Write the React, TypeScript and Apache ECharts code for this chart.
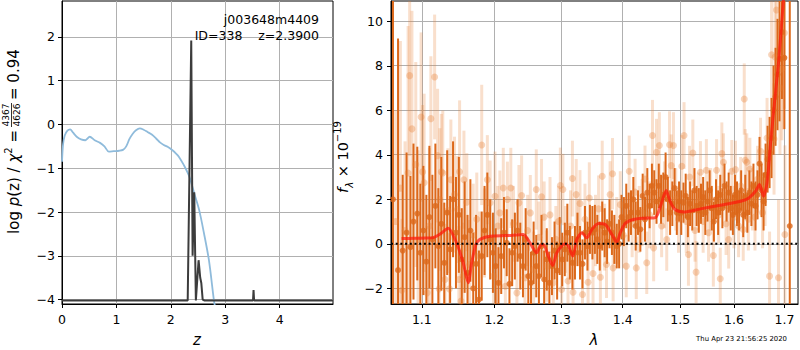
import React, { useEffect, useRef } from 'react';
import * as echarts from 'echarts';

const FONT = 'DejaVu Sans';

// ---------- Left panel: redshift fit ----------
const zTicks = [0, 1, 2, 3, 4];
const logPTicks = [-4, -3, -2, -1, 0, 1, 2];
// chi2 curve (blue)
const chi2Curve: [number, number][] = [
  [0, -0.85], [0.02, -0.45], [0.05, -0.25], [0.1, -0.14], [0.15, -0.11], [0.2, -0.18],
  [0.27, -0.28], [0.35, -0.34], [0.43, -0.36], [0.51, -0.28], [0.6, -0.36], [0.7, -0.42],
  [0.78, -0.5], [0.86, -0.62], [0.95, -0.61], [1.05, -0.6], [1.12, -0.58], [1.18, -0.5],
  [1.24, -0.33], [1.3, -0.21], [1.36, -0.13], [1.43, -0.09], [1.5, -0.12], [1.57, -0.17],
  [1.65, -0.23], [1.73, -0.32], [1.8, -0.41], [1.87, -0.47], [1.94, -0.51], [2.03, -0.59],
  [2.1, -0.67], [2.15, -0.74], [2.24, -0.93], [2.34, -1.19], [2.43, -1.57], [2.52, -1.95],
  [2.61, -2.49], [2.7, -3.1], [2.79, -4.0], [2.81, -4.15],
];
// log p(z) (black)
const pzCurve: [number, number][] = [
  [0, -4.02], [2.31, -4.02], [2.375, 1.92], [2.40, -3.0], [2.43, -1.55], [2.46, -4.02],
  [2.51, -3.1], [2.54, -3.5], [2.56, -3.62], [2.585, -4.0], [2.62, -4.02], [3.51, -4.02],
  [3.52, -3.78], [3.53, -4.02], [4.98, -4.02],
];

// ---------- Right panel: spectrum ----------
const lamTicks = [1.1, 1.2, 1.3, 1.4, 1.5, 1.6, 1.7];
const fluxTicks = [-2, 0, 2, 4, 6, 8, 10];
const lamRange = [1.06, 1.728];
const fluxRange = [-2.7, 10.9];
// [lambda (um), flux, error]
const specDark: [number, number, number][] = [
  [1.0625, 2.0, 15], [1.069, -1.18, 10.4], [1.075, -0.3, 3.4], [1.080, 0.5, 3.6], [1.085, -0.15, 3.2],
  [1.089, 1.0, 3.5], [1.094, 1.36, 3.0], [1.098, -0.4, 3.1], [1.102, 0.6, 2.9], [1.106, -0.8, 3.0],
  [1.110, 1.2, 3.2], [1.114, 0.2, 2.9], [1.118, 1.7, 2.8], [1.122, -0.1, 2.6], [1.126, 0.9, 3.0],
  [1.130, -0.85, 2.7], [1.134, 1.4, 2.8], [1.138, -0.25, 2.4], [1.142, 2.0, 2.6], [1.146, 0.5, 2.5],
  [1.150, 1.3, 2.6], [1.154, -0.7, 2.3], [1.158, 0.3, 2.5], [1.162, -1.3, 2.6], [1.166, 0.6, 2.3],
  [1.170, -2.0, 2.5], [1.174, -0.9, 2.2], [1.178, -2.5, 2.2], [1.182, -0.55, 2.0], [1.186, 0.6, 2.0],
  [1.190, 1.3, 1.9], [1.194, 0.2, 1.8], [1.198, -0.4, 1.8], [1.202, -1.0, 1.7], [1.206, -1.75, 1.6],
  [1.210, -0.55, 1.7], [1.214, 0.5, 1.6], [1.218, 0.05, 1.5], [1.222, -1.8, 1.6], [1.226, -0.4, 1.5],
  [1.230, -0.1, 1.5], [1.234, 0.6, 1.4], [1.238, -0.55, 1.5], [1.242, -1.0, 1.4], [1.246, 0.2, 1.4],
  [1.250, -1.45, 1.5], [1.254, -1.75, 1.4], [1.258, -0.4, 1.4], [1.262, -1.0, 1.4], [1.266, -1.45, 1.3],
  [1.270, -0.1, 1.4], [1.274, -1.6, 1.3], [1.278, -0.7, 1.4], [1.282, -1.75, 1.4], [1.286, -1.0, 1.3],
  [1.290, -0.3, 1.3], [1.294, -1.2, 1.3], [1.298, -0.1, 1.3], [1.302, -0.7, 1.2], [1.306, -0.25, 1.2],
  [1.310, 0.5, 1.3], [1.314, -0.4, 1.2], [1.318, -0.85, 1.2], [1.322, -0.4, 1.2], [1.326, 0.2, 1.2],
  [1.330, -0.4, 1.2], [1.334, -0.9, 1.1], [1.338, 0.5, 1.2], [1.342, -0.1, 1.1], [1.346, 0.65, 1.1],
  [1.350, 0.5, 1.2], [1.354, 0.65, 1.1], [1.358, 0.2, 1.1], [1.362, -0.1, 1.1], [1.366, 0.8, 1.1],
  [1.370, 0.5, 1.1], [1.374, 0.1, 1.0], [1.378, 0.9, 1.1], [1.382, 0.5, 1.0], [1.386, 0.2, 1.1],
  [1.390, -0.1, 1.0], [1.394, 0.0, 1.1], [1.398, 1.2, 1.0], [1.402, 1.0, 1.1], [1.406, 1.7, 1.0],
  [1.410, 1.2, 1.1], [1.414, 1.4, 1.0], [1.418, 2.0, 1.0], [1.422, 0.8, 1.1], [1.426, 1.4, 1.0],
  [1.430, 0.65, 1.0], [1.434, 2.15, 1.0], [1.438, 1.1, 1.0], [1.442, 2.3, 1.1], [1.446, 1.7, 1.0],
  [1.450, 2.6, 1.0], [1.454, 2.3, 1.0], [1.458, 1.9, 1.0], [1.462, 2.6, 1.0], [1.466, 2.0, 1.1],
  [1.470, 2.2, 1.0], [1.474, 3.0, 1.1], [1.478, 2.0, 1.0], [1.482, 1.4, 1.0], [1.486, 1.8, 1.0],
  [1.490, 2.5, 0.9], [1.494, 1.4, 1.0], [1.498, 1.9, 0.9], [1.502, 1.4, 1.0], [1.506, 1.85, 0.9],
  [1.510, 2.15, 1.0], [1.514, 1.2, 0.9], [1.518, 1.8, 1.0], [1.522, 1.5, 0.9], [1.526, 2.4, 1.0],
  [1.530, 1.7, 0.9], [1.534, 1.5, 1.0], [1.538, 1.8, 0.9], [1.542, 2.1, 0.9], [1.546, 1.4, 1.0],
  [1.550, 1.9, 0.9], [1.554, 2.4, 0.9], [1.558, 1.6, 1.0], [1.562, 1.0, 0.9], [1.566, 2.0, 0.9],
  [1.570, 1.4, 1.0], [1.574, 2.2, 0.9], [1.578, 1.6, 0.9], [1.582, 2.6, 1.0], [1.586, 1.9, 0.9],
  [1.590, 2.3, 0.9], [1.594, 1.6, 1.0], [1.598, 1.3, 0.9], [1.602, 2.2, 0.9], [1.606, 1.8, 1.0],
  [1.610, 1.5, 0.9], [1.614, 2.4, 0.9], [1.618, 1.3, 1.0], [1.622, 2.1, 1.0], [1.626, 1.4, 0.9],
  [1.630, 2.3, 1.0], [1.634, 1.8, 1.0], [1.638, 2.6, 1.0], [1.642, 1.7, 1.1], [1.646, 2.2, 1.1],
  [1.650, 3.6, 1.2], [1.654, 2.4, 1.2], [1.658, 1.9, 1.3], [1.662, 3.1, 1.4], [1.666, 3.8, 1.5],
  [1.670, 4.1, 1.6], [1.674, 4.75, 1.8], [1.678, 6.0, 2.0], [1.682, 6.6, 2.2], [1.686, 7.6, 2.5],
  [1.690, 8.3, 2.8], [1.695, 9.5, 3.0], [1.700, 8.35, 3.2], [1.711, 0.8, 14],
];
const specLight: [number, number, number][] = [
  [1.066, 1.0, 5.0], [1.072, 2.5, 6.6], [1.074, -2.08, 3.2], [1.078, 0.6, 4.0], [1.082, 3.18, 6.6],
  [1.084, 7.55, 3.6], [1.087, 5.16, 5.3], [1.092, 3.56, 4.6], [1.095, 0.2, 4.0], [1.099, 5.69, 3.8],
  [1.101, 3.23, 3.0], [1.103, 2.74, 4.0], [1.107, -2.2, 3.0], [1.110, 0.8, 3.5], [1.112, 5.62, 2.8],
  [1.117, 7.49, 2.8], [1.121, 3.96, 3.0], [1.123, -2.02, 2.8], [1.124, 1.99, 3.2], [1.126, 3.23, 2.6],
  [1.128, 3.18, 2.8], [1.131, -1.6, 2.5], [1.135, 1.49, 2.8], [1.137, -2.02, 2.5], [1.139, 2.88, 2.7],
  [1.144, 2.21, 2.6], [1.148, 1.54, 2.4], [1.150, -1.6, 2.4], [1.151, 3.24, 3.2], [1.153, -2.57, 2.3],
  [1.156, -1.45, 2.4], [1.157, 2.88, 2.2], [1.161, 1.87, 2.2], [1.165, -0.93, 2.0], [1.170, 0.4, 2.3],
  [1.175, 1.1, 2.1], [1.179, -0.55, 2.0], [1.182, 4.44, 2.7], [1.186, 0.49, 2.0], [1.190, 2.88, 2.0],
  [1.194, 1.84, 1.9], [1.199, -1.45, 1.8], [1.201, 2.14, 2.0], [1.205, 0.8, 1.8], [1.208, 1.39, 1.9],
  [1.213, 2.51, 1.8], [1.216, -1.9, 1.9], [1.219, 1.99, 1.7], [1.224, 2.51, 1.8], [1.228, 0.9, 1.7],
  [1.233, -2.2, 1.8], [1.236, 1.84, 1.7], [1.240, 2.17, 1.8], [1.245, -1.52, 1.7], [1.249, 0.6, 1.6],
  [1.253, 1.39, 1.7], [1.258, -1.15, 1.7], [1.262, 2.44, 1.8], [1.266, 0.3, 1.6], [1.270, 2.11, 1.7],
  [1.274, 1.2, 1.6], [1.278, -1.0, 1.6], [1.283, 1.3, 1.7], [1.288, -1.75, 1.6], [1.292, 0.2, 1.5],
  [1.296, 1.0, 1.6], [1.299, 2.62, 1.7], [1.301, -2.05, 1.6], [1.303, 2.44, 1.6], [1.307, 0.2, 1.5],
  [1.311, -1.67, 1.5], [1.315, 0.8, 1.6], [1.318, 2.93, 1.7], [1.319, -2.17, 1.5], [1.324, 2.21, 1.6],
  [1.327, 0.5, 1.5], [1.330, 1.81, 1.5], [1.334, -2.27, 1.5], [1.338, 1.1, 1.6], [1.343, -1.72, 1.5],
  [1.345, 2.06, 1.6], [1.351, -1.33, 1.5], [1.355, 0.6, 1.6], [1.360, 1.57, 1.5], [1.363, -1.5, 1.5],
  [1.366, 3.03, 1.6], [1.370, 0.3, 1.5], [1.373, -0.93, 1.5], [1.379, 2.21, 1.5], [1.383, 3.15, 1.6],
  [1.384, -1.08, 1.5], [1.390, 0.6, 1.5], [1.396, 1.76, 1.5], [1.401, 0.4, 1.5], [1.406, -1.0, 1.4],
  [1.411, 3.26, 1.6], [1.416, 0.9, 1.5], [1.421, 2.32, 1.5], [1.423, -1.08, 1.4], [1.428, 1.1, 1.5],
  [1.433, 1.4, 1.5], [1.438, 2.91, 1.5], [1.441, -0.85, 1.4], [1.446, 1.3, 1.5], [1.451, 4.86, 1.6],
  [1.453, -0.18, 1.5], [1.458, 4.11, 1.5], [1.463, 4.41, 1.5], [1.467, 0.8, 1.4], [1.472, 2.2, 1.5],
  [1.476, 0.19, 1.4], [1.481, 4.45, 1.5], [1.484, 3.51, 1.4], [1.488, 4.41, 1.5], [1.492, 2.0, 1.4],
  [1.497, 1.1, 1.5], [1.503, 3.48, 1.4], [1.507, 4.86, 1.5], [1.511, 1.0, 1.4], [1.515, -0.48, 1.4],
  [1.517, 3.0, 1.4], [1.523, 4.08, 1.5], [1.527, 0.6, 1.4], [1.529, -1.27, 1.4], [1.533, 1.9, 1.3],
  [1.537, 3.21, 1.4], [1.542, 1.0, 1.4], [1.548, 3.3, 1.4], [1.552, 0.5, 1.3], [1.556, 2.0, 1.4],
  [1.561, -0.52, 1.4], [1.567, 3.3, 1.4], [1.571, 1.3, 1.3], [1.574, -1.57, 1.4], [1.577, 4.05, 1.4],
  [1.580, 3.66, 1.3], [1.585, 0.9, 1.4], [1.590, 0.19, 1.3], [1.596, 3.26, 1.4], [1.600, 1.2, 1.4],
  [1.603, 3.33, 1.3], [1.609, 0.8, 1.4], [1.613, 2.6, 1.3], [1.618, 0.64, 1.4], [1.620, 6.5, 1.6],
  [1.622, 3.75, 1.4], [1.625, 3.66, 1.3], [1.628, 1.1, 1.4], [1.631, 3.36, 1.4], [1.636, 2.0, 1.4],
  [1.641, 1.2, 1.5], [1.646, 2.9, 1.5], [1.652, 4.16, 1.5], [1.656, 1.4, 1.6], [1.661, 2.5, 1.7],
  [1.665, 4.75, 1.8], [1.670, -1.45, 2.0], [1.674, 8.49, 2.4], [1.679, 4.71, 2.5], [1.681, 8.39, 2.6],
  [1.684, 10.5, 3.0], [1.688, -1.52, 3.5], [1.691, 7.0, 3.0], [1.695, 7.85, 3.2], [1.698, 8.34, 3.2],
  [1.700, 9.46, 3.4], [1.701, 0.42, 4.0],
];
// best-fit model (red)
const modelCurve: [number, number][] = [
  [1.0735, 0.24], [1.09, 0.25], [1.105, 0.26], [1.115, 0.28], [1.125, 0.45], [1.1353, 0.70],
  [1.1468, 0.04], [1.156, -0.85], [1.163, -1.75], [1.1678, -0.85], [1.1738, -0.03], [1.1794, 0.2],
  [1.1937, 0.34], [1.218, 0.37], [1.2425, 0.42], [1.2526, 0.04], [1.2626, -0.40], [1.2677, -0.1],
  [1.2728, -0.03], [1.2805, -0.55], [1.2872, -0.97], [1.2935, -0.4], [1.3064, 0.0], [1.3117, -0.1],
  [1.3186, -0.55], [1.325, 0.2], [1.333, 0.5], [1.341, 0.27], [1.349, 0.64], [1.36, 0.91],
  [1.371, 0.87], [1.382, 0.42], [1.39, 0.07], [1.396, 0.5], [1.404, 0.91], [1.418, 1.09],
  [1.436, 1.15], [1.456, 1.18], [1.465, 1.69], [1.475, 2.39], [1.482, 1.91], [1.491, 1.54],
  [1.506, 1.43], [1.537, 1.57], [1.574, 1.73], [1.613, 1.91], [1.629, 2.06], [1.642, 2.36],
  [1.65, 2.66], [1.658, 2.14], [1.665, 2.74], [1.672, 4.53], [1.6785, 6.02], [1.6886, 8.27],
  [1.6954, 10.2], [1.700, 11.5], [1.705, 13],
];

const DARK = 'rgb(220,104,26)';
const LIGHT_BAR = 'rgba(232,128,52,0.25)';
const LIGHT_DOT = 'rgba(232,128,52,0.42)';

const GRID_L = { left: 62, top: 1, width: 271, height: 303 };
const GRID_R = { left: 391, top: 1, width: 407, height: 303 };

const minus = (v: number) => (v < 0 ? '\u2212' + Math.abs(v) : String(v));

// error bars, clamped to the panel's flux range (no clip path needed)
function errBars(data: [number, number, number][], color: string, width: number) {
  return {
    type: 'custom',
    xAxisIndex: 1,
    yAxisIndex: 1,
    clip: false,
    silent: true,
    dimensions: ['x', 'y', 'e'],
    encode: { x: 0, y: 1 },
    data: data.map((d) => [Math.log(d[0]), d[1], d[2]]),
    renderItem: (_p: any, api: any) => {
      const x = api.value(0);
      const y = api.value(1);
      const e = api.value(2);
      const lo = Math.max(fluxRange[0], y - e);
      const hi = Math.min(fluxRange[1], y + e);
      if (hi <= lo) return null;
      const a = api.coord([x, lo]);
      const b = api.coord([x, hi]);
      return {
        type: 'line',
        shape: { x1: a[0], y1: a[1], x2: b[0], y2: b[1] },
        style: { stroke: color, lineWidth: width },
      };
    },
  };
}

function dots(data: [number, number, number][], color: string, size: number) {
  return {
    type: 'scatter',
    xAxisIndex: 1,
    yAxisIndex: 1,
    silent: true,
    symbol: 'circle',
    symbolSize: size,
    itemStyle: { color },
    data: data
      .filter((d) => d[1] >= fluxRange[0] && d[1] <= fluxRange[1])
      .map((d) => [Math.log(d[0]), d[1]]),
  };
}

const tickLabel = { show: true, color: '#000', fontSize: 12.5, fontFamily: FONT };
const splitLine = { show: true, lineStyle: { color: '#b0b0b0', width: 1 } };
const axisLine = { show: true, onZero: false, lineStyle: { color: '#000', width: 1 } };

// y tick marks + labels of the spectrum panel, placed from the panel's flux range
const fluxY = (v: number) => GRID_R.top + (GRID_R.height * (fluxRange[1] - v)) / (fluxRange[1] - fluxRange[0]);
const fluxTickGraphics: any[] = [];
fluxTicks.forEach((v) => {
  const y = fluxY(v);
  fluxTickGraphics.push({
    type: 'line', z: 100, silent: true,
    shape: { x1: GRID_R.left - 4, y1: Math.round(y) + 0.5, x2: GRID_R.left, y2: Math.round(y) + 0.5 },
    style: { stroke: '#000', lineWidth: 1 },
  });
  fluxTickGraphics.push({
    type: 'text', z: 100, silent: true, x: GRID_R.left - 8, y,
    style: { text: minus(v), align: 'right', verticalAlign: 'middle', fontSize: 12.5, fontFamily: FONT, fill: '#000' },
  });
});

const staticGraphics: any[] = [
  { type: 'text', z: 100, x: 319, y: 19, style: { text: 'j003648m4409', align: 'right', verticalAlign: 'middle', fontSize: 12.5, fontFamily: FONT, fill: '#000' } },
  { type: 'text', z: 100, x: 319, y: 35, style: { text: 'ID=338    z=2.3900', align: 'right', verticalAlign: 'middle', fontSize: 12.5, fontFamily: FONT, fill: '#000' } },
  { type: 'text', z: 100, x: 197, y: 340, style: { text: 'z', align: 'center', verticalAlign: 'middle', fontSize: 15, fontStyle: 'italic', fontFamily: FONT, fill: '#000' } },
  { type: 'text', z: 100, x: 594, y: 340, style: { text: 'λ', align: 'center', verticalAlign: 'middle', fontSize: 15, fontStyle: 'italic', fontFamily: FONT, fill: '#000' } },
  { type: 'text', z: 100, x: 787, y: 339, style: { text: 'Thu Apr 23 21:56:25 2020', align: 'right', verticalAlign: 'middle', fontSize: 6.9, fontFamily: FONT, fill: '#000' } },
  ...fluxTickGraphics,
  {
    type: 'group', x: 14, y: 156, rotation: Math.PI / 2, z: 100,
    children: [
      {
        type: 'text', x: 26, y: 0,
        style: {
          text: '{r|log }{i|p}{r|(z) / }{i|χ}{s|2}{r| =}',
          align: 'right', verticalAlign: 'middle', fill: '#000',
          rich: {
            r: { fontSize: 15, fontFamily: FONT, lineHeight: 22, verticalAlign: 'middle' },
            i: { fontSize: 15, fontFamily: FONT, fontStyle: 'italic', lineHeight: 22, verticalAlign: 'middle' },
            s: { fontSize: 10, fontFamily: FONT, verticalAlign: 'top', lineHeight: 14 },
          },
        },
      },
      { type: 'text', x: 41, y: -3.5, style: { text: '4367', align: 'center', verticalAlign: 'bottom', fontSize: 9, fontFamily: FONT, fill: '#000' } },
      { type: 'line', shape: { x1: 29, y1: -2.5, x2: 53, y2: -2.5 }, style: { stroke: '#000', lineWidth: 0.8 } },
      { type: 'text', x: 41, y: -1.5, style: { text: '4626', align: 'center', verticalAlign: 'top', fontSize: 9, fontFamily: FONT, fill: '#000' } },
      { type: 'text', x: 56, y: 0, style: { text: '= 0.94', align: 'left', verticalAlign: 'middle', fontSize: 15, fontFamily: FONT, fill: '#000' } },
    ],
  },
  {
    type: 'text', x: 343, y: 157, rotation: Math.PI / 2, z: 100,
    style: {
      text: '{f|f}{s|λ}{r| × 10}{p|−19}',
      align: 'center', verticalAlign: 'middle', fill: '#000',
      rich: {
        f: { fontSize: 14.5, fontFamily: FONT, fontStyle: 'italic', lineHeight: 22, verticalAlign: 'middle' },
        r: { fontSize: 14.5, fontFamily: FONT, lineHeight: 22, verticalAlign: 'middle' },
        s: { fontSize: 10, fontFamily: FONT, fontStyle: 'italic', verticalAlign: 'bottom', lineHeight: 14 },
        p: { fontSize: 10, fontFamily: FONT, verticalAlign: 'top', lineHeight: 14 },
      },
    },
  },
];

export default function App() {
  const ref = useRef<HTMLDivElement>(null);
  useEffect(() => {
    if (!ref.current) return;
    const chart = echarts.init(ref.current, null, { renderer: 'svg' });
    const option: any = {
      animation: false,
      textStyle: { fontFamily: FONT },
      grid: [
        { ...GRID_L, show: true, borderColor: '#000', borderWidth: 1, backgroundColor: 'transparent' },
        { ...GRID_R, show: true, borderColor: '#000', borderWidth: 1, backgroundColor: 'transparent' },
      ],
      xAxis: [
        {
          type: 'value', gridIndex: 0, position: 'bottom', min: 0, max: 4.98,
          axisLine, splitLine,
          axisTick: { show: true, length: 4, lineStyle: { color: '#000' }, customValues: zTicks },
          axisLabel: { ...tickLabel, margin: 9, customValues: zTicks, formatter: minus },
        },
        {
          type: 'value', gridIndex: 1, position: 'bottom', min: Math.log(lamRange[0]), max: Math.log(lamRange[1]),
          axisLine, splitLine,
          axisTick: { show: true, length: 4, lineStyle: { color: '#000' }, customValues: lamTicks.map(Math.log) },
          axisLabel: { ...tickLabel, margin: 9, customValues: lamTicks.map(Math.log), formatter: (v: number) => Math.exp(v).toFixed(1) },
        },
      ],
      yAxis: [
        {
          type: 'value', gridIndex: 0, position: 'left', min: -4.1, max: 2.82,
          axisLine, splitLine,
          axisTick: { show: true, length: 4, lineStyle: { color: '#000' }, customValues: logPTicks },
          axisLabel: { ...tickLabel, margin: 7, customValues: logPTicks, formatter: minus },
        },
        {
          type: 'value', gridIndex: 1, position: 'left', min: fluxRange[0], max: fluxRange[1],
          axisLine, splitLine,
          axisTick: { show: false, customValues: fluxTicks },
          axisLabel: { show: false, customValues: fluxTicks },
        },
      ],
      series: [
        {
          type: 'line', xAxisIndex: 0, yAxisIndex: 0, data: chi2Curve, showSymbol: false, silent: true,
          lineStyle: { color: '#8fbbdb', width: 1.8 }, smooth: 0.3,
        },
        {
          type: 'line', xAxisIndex: 0, yAxisIndex: 0, data: pzCurve, showSymbol: false, silent: true,
          lineStyle: { color: '#3c3c3c', width: 2 },
        },
        errBars(specLight, LIGHT_BAR, 3),
        dots(specLight, LIGHT_DOT, 7),
        errBars(specDark, DARK, 2),
        dots(specDark, DARK, 6),
        {
          type: 'line', xAxisIndex: 1, yAxisIndex: 1, showSymbol: false, silent: true, smooth: 0.25,
          data: modelCurve.map((d) => [Math.log(d[0]), d[1]]),
          lineStyle: { color: 'rgba(255,20,10,0.7)', width: 3 },
        },
        {
          type: 'line', xAxisIndex: 1, yAxisIndex: 1, showSymbol: false, silent: true,
          data: lamRange.map((l) => [Math.log(l), 0]),
          lineStyle: { color: '#000', width: 2, type: [2, 2.7] },
        },
      ],
      graphic: staticGraphics,
    };
    chart.setOption(option);
    return () => chart.dispose();
  }, []);
  return <div ref={ref} style={{ position: 'absolute', left: 0, top: 0, width: 800, height: 350 }} />;
}
